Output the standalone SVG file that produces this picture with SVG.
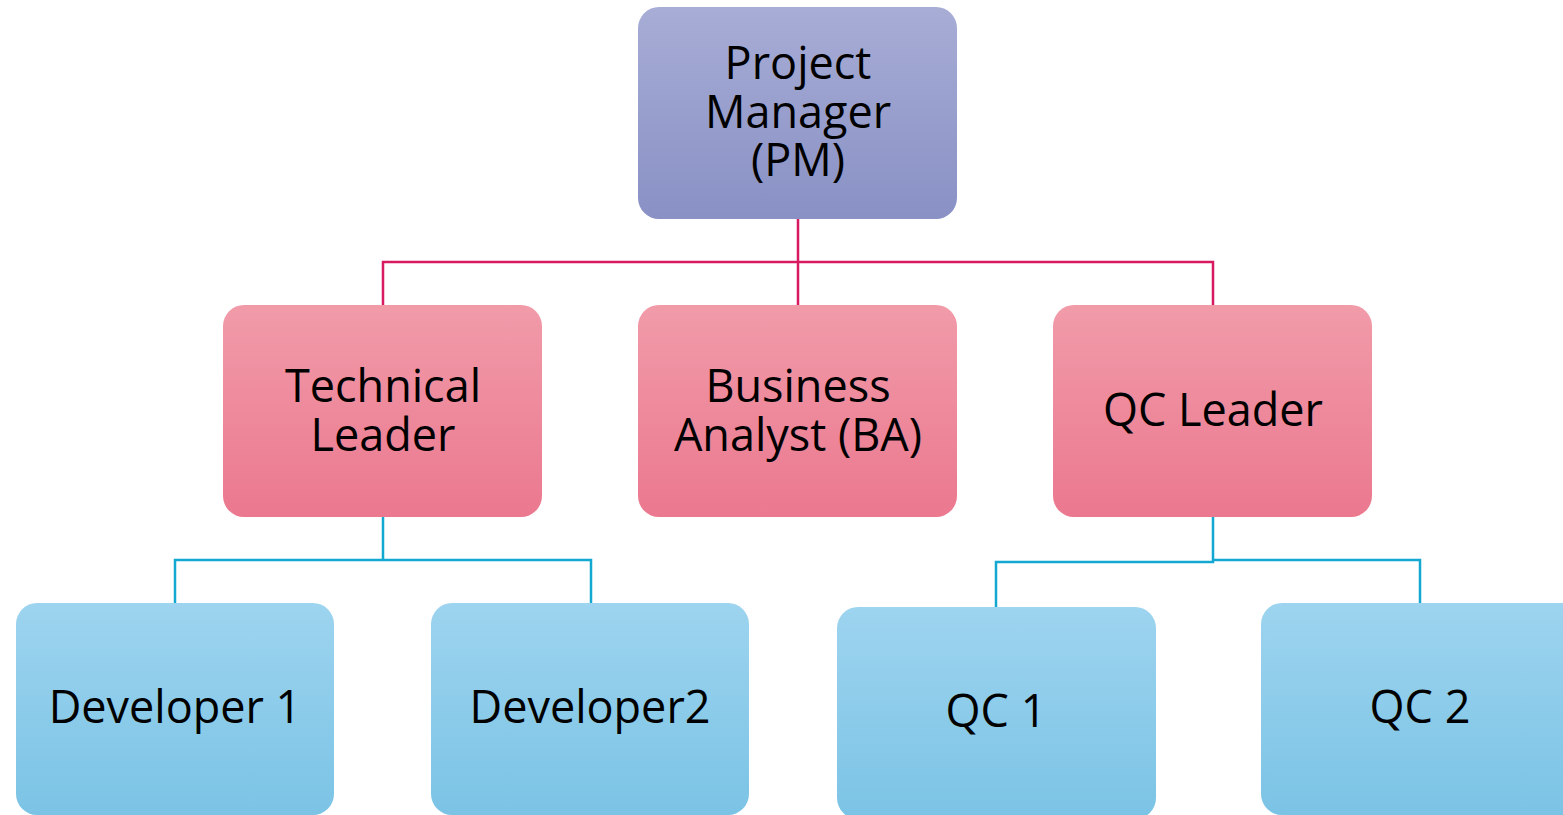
<svg xmlns="http://www.w3.org/2000/svg" width="1563" height="815" viewBox="0 0 1563 815">
<style>
text{font-family:"Open Sans","Noto Sans","Liberation Sans",sans-serif;font-size:45px;fill:#000;text-anchor:middle}
.pk{stroke:#d81b60;stroke-width:2.5;fill:none}
.bl{stroke:#12a8d2;stroke-width:2.5;fill:none}
</style>
<defs>
<linearGradient id="gP" x1="0" y1="0" x2="0" y2="1"><stop offset="0" stop-color="#a7add5"/><stop offset="1" stop-color="#8991c5"/></linearGradient>
<linearGradient id="gR" x1="0" y1="0" x2="0" y2="1"><stop offset="0" stop-color="#f19ba9"/><stop offset="1" stop-color="#eb788f"/></linearGradient>
<linearGradient id="gB" x1="0" y1="0" x2="0" y2="1"><stop offset="0" stop-color="#9dd4ef"/><stop offset="1" stop-color="#7bc3e5"/></linearGradient>
</defs>
<g id="connectors">
<path class="pk" d="M798 219V305M383 305V262H1213V305"/>
<path class="bl" d="M383 517V560M175 603V560H591V603"/>
<path class="bl" d="M1213 517V562H996V607M1213 560H1420V603"/>
</g>
<g id="pm"><rect x="638" y="7" width="319" height="212" rx="21" fill="url(#gP)"/>
<text x="798" y="79">Project</text><text x="798" y="128">Manager</text><text x="798" y="176">(PM)</text></g>
<g id="tl"><rect x="223" y="305" width="319" height="212" rx="21" fill="url(#gR)"/>
<text x="383" y="402">Technical</text><text x="383" y="451">Leader</text></g>
<g id="ba"><rect x="638" y="305" width="319" height="212" rx="21" fill="url(#gR)"/>
<text x="798" y="402">Business</text><text x="798" y="451">Analyst (BA)</text></g>
<g id="qcl"><rect x="1053" y="305" width="319" height="212" rx="21" fill="url(#gR)"/>
<text x="1213" y="426">QC Leader</text></g>
<g id="dev1"><rect x="16" y="603" width="318" height="212" rx="21" fill="url(#gB)"/>
<text x="175" y="723">Developer 1</text></g>
<g id="dev2"><rect x="431" y="603" width="318" height="212" rx="21" fill="url(#gB)"/>
<text x="590" y="723">Developer2</text></g>
<g id="qc1"><rect x="837" y="607" width="319" height="212" rx="21" fill="url(#gB)"/>
<text x="996" y="727">QC 1</text></g>
<g id="qc2"><rect x="1261" y="603" width="340" height="212" rx="21" fill="url(#gB)"/>
<text x="1420" y="723">QC 2</text></g>
</svg>
